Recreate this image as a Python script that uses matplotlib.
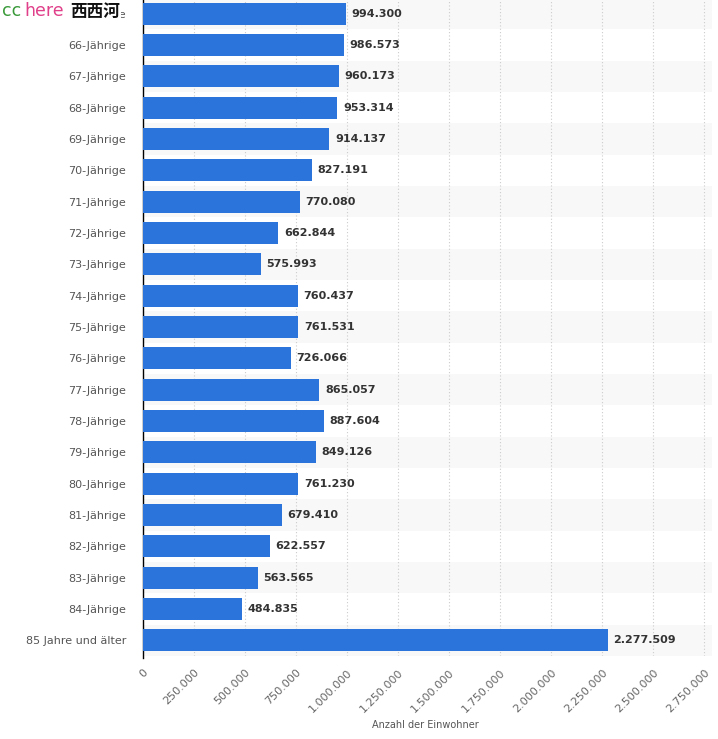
import matplotlib.pyplot as plt
from matplotlib.patches import Rectangle
from matplotlib.ticker import FuncFormatter

categories = ["65-Jährige", "66-Jährige", "67-Jährige", "68-Jährige", "69-Jährige",
              "70-Jährige", "71-Jährige", "72-Jährige", "73-Jährige", "74-Jährige",
              "75-Jährige", "76-Jährige", "77-Jährige", "78-Jährige", "79-Jährige",
              "80-Jährige", "81-Jährige", "82-Jährige", "83-Jährige", "84-Jährige",
              "85 Jahre und älter"]
values = [994300, 986573, 960173, 953314, 914137, 827191, 770080, 662844, 575993,
          760437, 761531, 726066, 865057, 887604, 849126, 761230, 679410, 622557,
          563565, 484835, 2277509]
xticks = [0, 250000, 500000, 750000, 1000000, 1250000, 1500000, 1750000,
          2000000, 2250000, 2500000, 2750000]


def de_fmt(v):
    return f"{int(v):,}".replace(",", ".")


W, H = 718, 739
fig = plt.figure(figsize=(W / 100, H / 100), dpi=100)
ax = fig.add_axes([143 / W, 1 - 656 / H, (712 - 143) / W, 658 / H])

n = len(categories)
ypos = list(range(n))

# alternating row shading
for i in ypos:
    if i % 2 == 0:
        ax.axhspan(i - 0.5, i + 0.5, color="#f8f8f8", zorder=0, lw=0)

ax.barh(ypos, values, height=0.7, color="#2a74db", zorder=3)

for y, v in zip(ypos, values):
    ax.annotate(de_fmt(v), (v, y), xytext=(4, 0), textcoords="offset points",
                va="center", ha="left", fontsize=8, fontweight="bold",
                color="#333333", zorder=4)

ax.set_xlim(0, 2789000)
ax.set_ylim(n - 0.5, -0.5)
ax.set_yticks(ypos)
ax.set_yticklabels(categories, fontsize=8, color="#555555")
ax.set_xticks(xticks)
ax.xaxis.set_major_formatter(FuncFormatter(lambda v, p: de_fmt(v)))
plt.setp(ax.get_xticklabels(), rotation=45, ha="right", rotation_mode="anchor",
         fontsize=8, color="#666666")
ax.tick_params(axis="both", length=0)
ax.tick_params(axis="x", pad=8)
ax.tick_params(axis="y", pad=12)

ax.grid(axis="x", color="#cccccc", linestyle=(0, (1, 2)), lw=0.8, zorder=1)
for s in ["top", "right", "bottom"]:
    ax.spines[s].set_visible(False)
ax.spines["left"].set_color("black")
ax.spines["left"].set_linewidth(1)
ax.spines["left"].set_bounds(-0.5, n - 0.45)

fig.text(425 / W, 1 - 725 / H, "Anzahl der Einwohner", ha="center", va="center",
         fontsize=7, color="#555555")

# watermark (covers most of the first label, as in the original screenshot)
fig.patches.append(Rectangle((0, 1 - 25 / H), 121 / W, 25 / H, transform=fig.transFigure,
                             facecolor="white", edgecolor="none", zorder=5))
fig.text(2 / W, 1 - 11 / H, "cc", color="#3a9a3a", fontsize=12.5, va="center", zorder=6)
fig.text(24 / W, 1 - 11 / H, "here", color="#e0408a", fontsize=12.5, va="center", zorder=6)
fig.text(70 / W, 1 - 12 / H, "西西河", color="#111111", fontsize=12, va="center",
         fontweight="bold", family=["Noto Sans CJK SC", "DejaVu Sans"], zorder=6)

fig.savefig("out.png", dpi=100)
